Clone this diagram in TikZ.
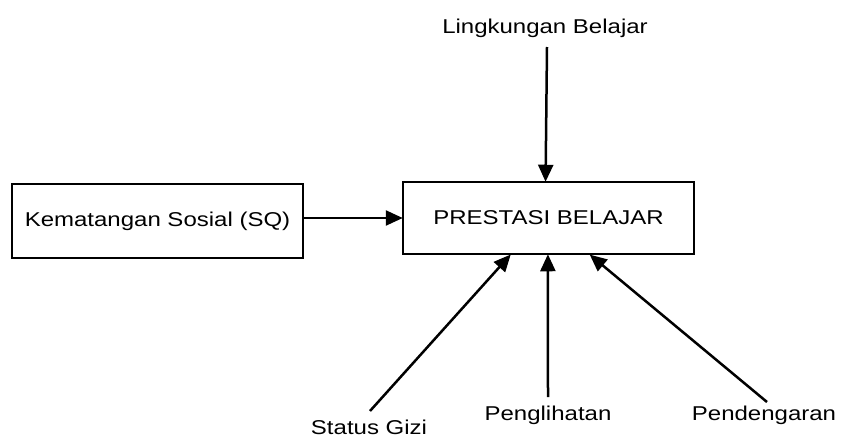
\documentclass[tikz,border=0pt]{standalone}
\usepackage{fontspec}
\setmainfont{Liberation Sans}[FakeStretch=1.2]
\usetikzlibrary{arrows.meta,calc}
\begin{document}
\begin{tikzpicture}[x=1pt,y=-1pt,
  lbl/.style={font=\fontsize{20}{23}\selectfont, inner sep=0pt},
  boxnode/.style={draw, line width=2.5pt, font=\fontsize{20}{23}\selectfont, inner sep=0pt},
  conn/.style={line width=2.5pt, -{Triangle[length=17pt,width=15pt]}, shorten >=-1pt}
]
\useasboundingbox (0,0) rectangle (841,439);
\node[boxnode, minimum width=291pt, minimum height=72pt] (main) at (548.5,218) {PRESTASI BELAJAR};
\node[boxnode, minimum width=291pt, minimum height=74pt] (sq) at (157.5,221) {Kematangan Sosial (SQ)};
\node[lbl] (lb) at (545,28) {Lingkungan Belajar};
\node[lbl] (sg) at (369,427) {Status Gizi};
\node[lbl] (pl) at (548,415) {Penglihatan};
\node[lbl] (pd) at (764,415) {Pendengaran};
\coordinate (lbt) at (547,47);
\coordinate (sgt) at (370,411);
\coordinate (plt) at (548,397);
\coordinate (pdt) at (767,402);
\draw[conn] (lbt) -- ($(main.north west)!0.49!(main.north east)$);
\draw[conn] (sq.east |- 0,218) -- (main.west |- 0,218);
\draw[conn] (sgt) -- ($(main.south west)!0.369!(main.south east)$);
\draw[conn] (plt) -- ($(main.south west)!0.498!(main.south east)$);
\draw[conn] (pdt) -- ($(main.south west)!0.643!(main.south east)$);
\end{tikzpicture}
\end{document}
